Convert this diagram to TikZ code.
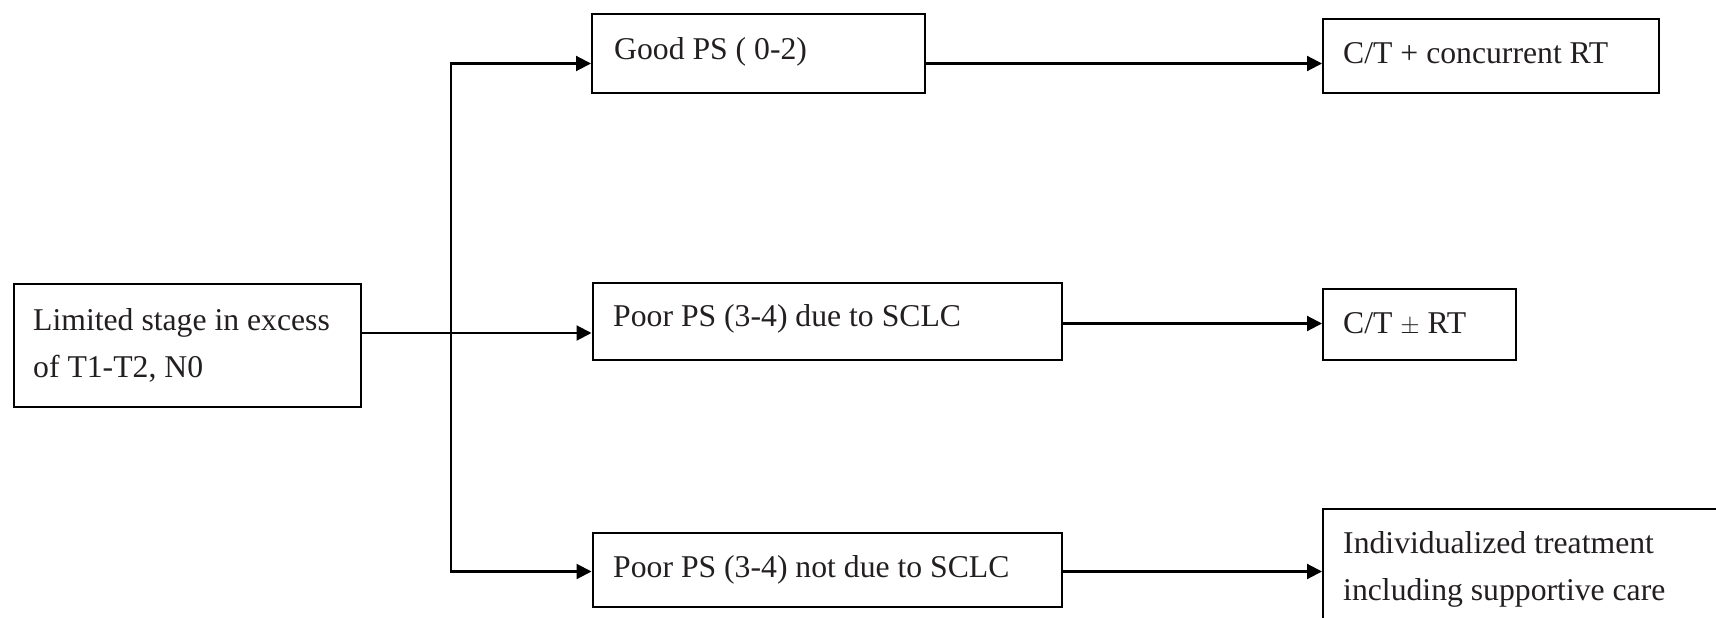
\documentclass[tikz,border=0pt]{standalone}
\usepackage{fontspec}
\setmainfont{Liberation Serif}
\usetikzlibrary{arrows.meta}
\definecolor{ink}{RGB}{35,31,32}
\begin{document}
\begin{tikzpicture}[x=1pt, y=-1pt,
  box/.style={draw=black, line width=2pt, inner sep=0pt, anchor=north west},
  lbl/.style={text=ink, inner sep=0pt, anchor=base west,
    font=\fontsize{31.7}{46.6}\selectfont, align=left},
  tip/.style={Triangle[length=15pt, width=15pt]},
  conn/.style={line width=2.1pt, draw=black},
  arr/.style={conn, -{Triangle[length=15pt, width=15pt]}}]
\useasboundingbox (0,0) rectangle (1716,618);
\clip (0,0) rectangle (1716,618);

% boxes
\node[box, minimum width=347.3pt, minimum height=122.7pt] (A)  at (12.7,283.3) {};
\node[box, minimum width=332.5pt, minimum height=79.6pt]  (B1) at (591,12.7) {};
\node[box, minimum width=469pt,   minimum height=77pt]    (B2) at (591.5,282) {};
\node[box, minimum width=469pt,   minimum height=74pt]    (B3) at (591.5,532) {};
\node[box, minimum width=335.7pt, minimum height=74pt]    (C1) at (1322,18.3) {};
\node[box, minimum width=193pt,   minimum height=71.8pt]  (C2) at (1322,287.5) {};
\node[box, minimum width=500pt,   minimum height=200pt]   (C3) at (1322,507.5) {};

% texts (multi-line labels sit on the baseline of their last line)
\node[lbl] (tA)  at (33,377)    {Limited stage in excess\\of T1-T2, N0};
\node[lbl] (tB1) at (614,59.3)  {Good PS ( 0-2)};
\node[lbl] (tB2) at (613,326.7) {Poor PS (3-4) due to SCLC};
\node[lbl] (tB3) at (613,577.5) {Poor PS (3-4) not due to SCLC};
\node[lbl] (tC1) at (1343,63.3) {C/T + concurrent RT};
\node[lbl] (tC2) at (1343,333)  {C/T \(\pm\) RT};
\node[lbl] (tC3) at (1343,600)  {Individualized treatment\\including supportive care};

% branch points
\coordinate (j)   at (451,333);
\coordinate (top) at (451,63.5);
\coordinate (bot) at (451,571.5);
\coordinate (m)   at (0,323.5);

% connectors
\draw[arr] (A.east |- j) -- (B2.west |- j);
\draw[conn, {Triangle[length=15pt, width=15pt]}-{Triangle[length=15pt, width=15pt]}]
  (B1.west |- top) -- (top) -- (bot) -- (B3.west |- bot);
\draw[arr] (B1.east |- top) -- (C1.west |- top);
\draw[arr] (B2.east |- m) -- (C2.west |- m);
\draw[arr] (B3.east |- bot) -- (C3.west |- bot);
\end{tikzpicture}
\end{document}
